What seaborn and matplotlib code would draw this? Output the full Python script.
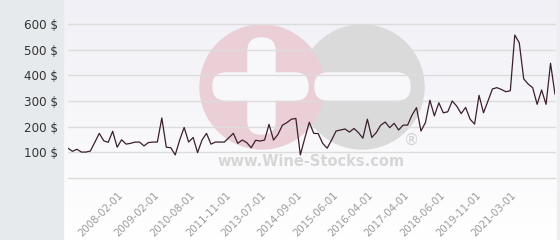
import numpy as np
import matplotlib
matplotlib.use("Agg")
import matplotlib.pyplot as plt
import seaborn as sns
from matplotlib.patches import Circle, FancyBboxPatch, Rectangle

# ---- data ----
prices = [116, 104, 112, 101, 101, 105, 139, 174, 145, 139, 182, 120, 149, 132, 135, 140, 140, 125, 138, 140, 140, 234,
          120, 118, 90, 148, 197, 140, 158, 99, 148, 174, 132, 140, 140, 140, 157, 174, 135, 148, 138, 118, 147,
          144, 148, 209, 148, 170, 206, 216, 229, 232, 90, 155, 217, 174, 173, 135, 116, 148, 183, 187, 191, 179, 193,
          177, 155, 229, 158, 177, 206, 218, 196, 213, 187, 206, 206, 245, 274, 183, 216, 303, 242, 293, 254, 258, 300,
          280, 251, 275, 229, 210, 322, 254, 300, 347, 352, 345, 336, 340, 557, 527, 386, 366, 352, 287, 343, 287, 447, 326]
tick_dates = ["2008-02-01", "2009-02-01", "2010-08-01", "2011-11-01", "2013-07-01", "2014-09-01",
              "2015-06-01", "2016-04-01", "2017-04-01", "2018-06-01", "2019-11-01", "2021-03-01"]
y_ticks = [0, 100, 200, 300, 400, 500, 600]
y_labels = ["", "100 $", "200 $", "300 $", "400 $", "500 $", "600 $"]

sns.set_theme(style="white")
plt.rcParams["font.family"] = ["DejaVu Sans"]

W, H = 560, 240
fig = plt.figure(figsize=(W / 100, H / 100), dpi=100)

# ---- background layer in pixel coordinates ----
bg = fig.add_axes([0, 0, 1, 1], zorder=0)
bg.set_xlim(0, W)
bg.set_ylim(H, 0)
bg.axis("off")
top = np.array([240, 240, 246]) / 255
bot = np.array([255, 255, 255]) / 255
t = np.linspace(0, 1, 200)[:, None, None]
grad = top * (1 - t) + bot * t
grad = np.repeat(grad, 2, axis=1)
bg.imshow(grad, extent=(63, W, H, 0), aspect="auto", zorder=0)
bg.add_patch(Rectangle((0, 0), 63, H, color="#e6eaed", zorder=1))
bg.add_patch(Rectangle((557, 0), 3, H, color="#eceef0", zorder=1))

# watermark
bg.add_patch(Circle((362, 87), 62, color="#dadada", zorder=2))
bg.add_patch(Circle((262, 87), 62, color="#eacfd7", zorder=3))
wm = dict(boxstyle="round,pad=0,rounding_size=13", color="#f8f8fb", zorder=4)
bg.add_patch(FancyBboxPatch((248, 38), 27, 96, **wm))
bg.add_patch(FancyBboxPatch((213, 73), 95, 27, **wm))
bg.add_patch(FancyBboxPatch((315, 73), 95, 27, **wm))
bg.text(311, 162, "www.Wine-Stocks.com", ha="center", va="center", fontsize=10.5,
        fontweight="bold", color="#d6d6d6", zorder=4)
bg.text(412, 140, "®", ha="center", va="center", fontsize=11, color="#d0d0d0", zorder=4)

# ---- main chart ----
ax = fig.add_axes([68 / W, 1 - 178 / H, 487 / W, 154 / H], zorder=1)
ax.set_facecolor("none")
x = np.arange(len(prices))
sns.lineplot(x=x, y=prices, ax=ax, color="#3b1f2e", linewidth=0.9, zorder=3)
ax.set_xlim(0, len(prices) - 1)
ax.set_ylim(0, 600)
ax.set_yticks(y_ticks)
ax.set_yticklabels(y_labels)
ax.yaxis.grid(True, color="#dcdcdc", linewidth=1, zorder=1)
ax.xaxis.grid(False)
for gl in ax.get_ygridlines():
    gl.set_clip_on(False)
for s in ax.spines.values():
    s.set_visible(False)
ax.set_xlabel("")
ax.set_ylabel("")
tick_pos = [12 + 8 * k for k in range(len(tick_dates))]
ax.set_xticks(tick_pos)
ax.set_xticklabels(tick_dates)
ax.tick_params(axis="y", length=0, pad=7, labelsize=8.6, labelcolor="#333333")
ax.tick_params(axis="x", length=0, pad=11, labelsize=7.3, labelcolor="#9a9a9a")
for lab in ax.get_xticklabels():
    lab.set_rotation(45)
    lab.set_ha("right")
    lab.set_va("center")
    lab.set_rotation_mode("anchor")

fig.savefig("out.png", dpi=100)
